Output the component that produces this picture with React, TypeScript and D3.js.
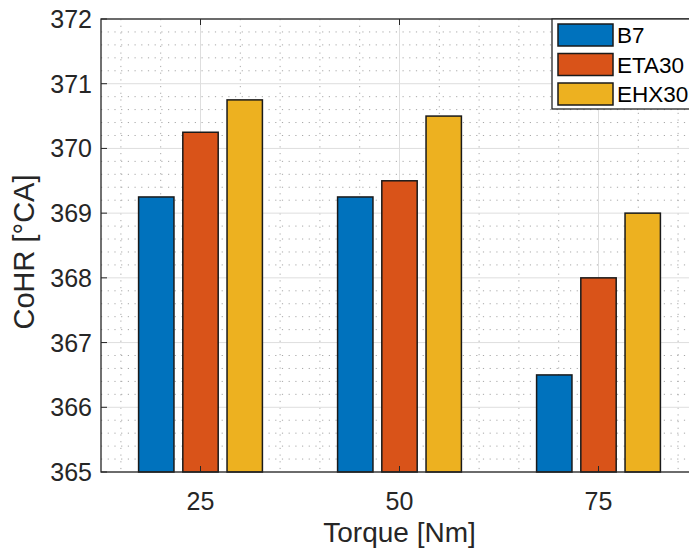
import React, { useEffect, useRef } from 'react';
import * as d3 from 'd3';

// chart values
const torques = [25, 50, 75];
const seriesNames = ['B7', 'ETA30', 'EHX30'];
const b7 = [369.25, 369.25, 366.5];
const eta30 = [370.25, 369.5, 368.0];
const ehx30 = [370.75, 370.5, 369.0];
const yTicks = [365, 366, 367, 368, 369, 370, 371, 372];
const colors = ['#0072BD', '#D95319', '#EDB120'];

function App() {
    const ref = useRef<SVGSVGElement | null>(null);

    useEffect(() => {
        const width = 689;
        const height = 555;
        // axes box (right side runs past the picture edge, as in the reference)
        const left = 101, right = 698, top = 19, bottom = 472;

        const svg = d3.select(ref.current);
        svg.selectAll('*').remove();

        const x = d3.scaleLinear().domain([12.5, 87.5]).range([left, right]);
        const y = d3.scaleLinear().domain([365, 372]).range([bottom, top]);

        // grouped bar slots, in data units
        const groupWidth = 25 * 3 / (3 + 1.5);
        const sub = d3.scaleBand<string>()
            .domain(seriesNames)
            .range([-groupWidth / 2, groupWidth / 2])
            .paddingInner(0.2)
            .paddingOuter(0.1);

        const font = '"Liberation Sans", Arial, Helvetica, sans-serif';
        const axisColor = '#262626';

        const g = svg.append('g');

        // minor grid (dotted)
        const yMinor = d3.range(365, 372.001, 0.2).filter(v => Math.abs(v - Math.round(v)) > 1e-6);
        const xMinor = d3.range(15, 87.5, 5).filter(v => v % 25 !== 0);
        g.selectAll('.ymin').data(yMinor).enter().append('line')
            .attr('x1', left).attr('x2', right)
            .attr('y1', d => y(d)).attr('y2', d => y(d))
            .attr('stroke', '#a8a8a8').attr('stroke-width', 1)
            .attr('stroke-dasharray', '1.2,5.5');
        g.selectAll('.xmin').data(xMinor).enter().append('line')
            .attr('x1', d => x(d)).attr('x2', d => x(d))
            .attr('y1', top).attr('y2', bottom)
            .attr('stroke', '#a8a8a8').attr('stroke-width', 1)
            .attr('stroke-dasharray', '1.2,5.5');

        // major grid
        g.selectAll('.ymaj').data(yTicks).enter().append('line')
            .attr('x1', left).attr('x2', right)
            .attr('y1', d => y(d)).attr('y2', d => y(d))
            .attr('stroke', '#dedede').attr('stroke-width', 1);
        g.selectAll('.xmaj').data(torques).enter().append('line')
            .attr('x1', d => x(d)).attr('x2', d => x(d))
            .attr('y1', top).attr('y2', bottom)
            .attr('stroke', '#dedede').attr('stroke-width', 1);

        // bars
        const series = [b7, eta30, ehx30];
        series.forEach((vals, si) => {
            const name = seriesNames[si];
            g.selectAll('.bar' + si).data(vals).enter().append('rect')
                .attr('x', (_, i) => x(torques[i] + (sub(name) as number)))
                .attr('width', x(sub.bandwidth()) - x(0))
                .attr('y', d => y(d))
                .attr('height', d => y(365) - y(d))
                .attr('fill', colors[si])
                .attr('stroke', '#1a1a1a')
                .attr('stroke-width', 1.5);
        });

        // ticks, pointing inward
        const tl = 6;
        g.selectAll('.yt').data(yTicks).enter().append('line')
            .attr('x1', left).attr('x2', left + tl)
            .attr('y1', d => y(d)).attr('y2', d => y(d))
            .attr('stroke', axisColor);
        g.selectAll('.xt').data(torques).enter().append('line')
            .attr('x1', d => x(d)).attr('x2', d => x(d))
            .attr('y1', bottom).attr('y2', bottom - tl)
            .attr('stroke', axisColor);
        g.selectAll('.xtt').data(torques).enter().append('line')
            .attr('x1', d => x(d)).attr('x2', d => x(d))
            .attr('y1', top).attr('y2', top + tl)
            .attr('stroke', axisColor);

        // axes box
        g.append('rect')
            .attr('x', left).attr('y', top)
            .attr('width', right - left).attr('height', bottom - top)
            .attr('fill', 'none').attr('stroke', axisColor).attr('stroke-width', 1.3);

        // tick labels
        g.selectAll('.ytl').data(yTicks).enter().append('text')
            .attr('x', left - 9).attr('y', d => y(d))
            .attr('dy', '0.36em')
            .attr('text-anchor', 'end')
            .style('font-family', font).style('font-size', '25px')
            .attr('fill', axisColor)
            .text(d => d);
        g.selectAll('.xtl').data(torques).enter().append('text')
            .attr('x', d => x(d)).attr('y', bottom + 38)
            .attr('text-anchor', 'middle')
            .style('font-family', font).style('font-size', '25px')
            .attr('fill', axisColor)
            .text(d => d);

        // axis labels
        g.append('text')
            .attr('x', x(50)).attr('y', 542)
            .attr('text-anchor', 'middle')
            .style('font-family', font).style('font-size', '28px')
            .attr('fill', axisColor)
            .text('Torque [Nm]');
        g.append('text')
            .attr('transform', `translate(34, 252) rotate(-90)`)
            .attr('text-anchor', 'middle')
            .style('font-family', font).style('font-size', '29px')
            .attr('fill', axisColor)
            .text('CoHR [°CA]');

        // legend
        const lg = g.append('g');
        lg.append('rect')
            .attr('x', 552).attr('y', top)
            .attr('width', 160).attr('height', 90)
            .attr('fill', '#fff').attr('stroke', axisColor).attr('stroke-width', 1.3);
        const rowY = d3.scalePoint<string>().domain(seriesNames).range([35, 94]);
        seriesNames.forEach((name, i) => {
            const cy = rowY(name) as number;
            lg.append('rect')
                .attr('x', 558).attr('y', cy - 11)
                .attr('width', 55).attr('height', 22)
                .attr('fill', colors[i])
                .attr('stroke', '#1a1a1a').attr('stroke-width', 1.5);
            lg.append('text')
                .attr('x', 617).attr('y', cy)
                .attr('dy', '0.36em')
                .style('font-family', font).style('font-size', '22.5px')
                .attr('fill', '#000')
                .text(name);
        });

        svg.attr('width', width).attr('height', height);
    }, []);

    return (
        <div style={{ position: 'fixed', left: 0, top: 0, background: '#fff' }}>
            <svg ref={ref} width={689} height={555} style={{ display: 'block', overflow: 'hidden' }} />
        </div>
    );
}

export default App;
